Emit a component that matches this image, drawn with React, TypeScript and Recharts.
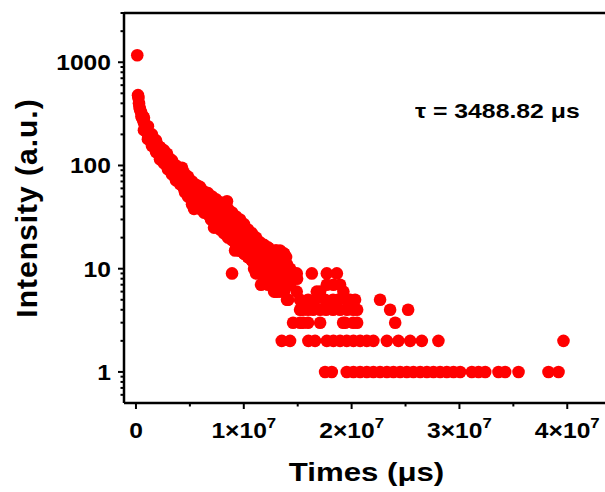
import React, { useLayoutEffect } from "react";
import { ScatterChart, Scatter, XAxis, YAxis, Label } from "recharts";

const FONT = '"Liberation Sans", Arial, Helvetica, sans-serif';

// early part of the decay (time in µs, intensity in counts)
const decayTimes = [
  0.12e6, 0.19e6, 0.23e6, 0.28e6, 0.32e6, 0.37e6, 0.46e6, 0.51e6, 0.56e6, 0.65e6,
  0.7e6, 0.74e6, 0.84e6, 0.93e6, 1.02e6, 1.11e6, 1.21e6, 1.3e6, 1.39e6, 1.48e6,
  1.58e6, 1.67e6, 1.76e6, 1.86e6, 1.95e6, 2.04e6, 2.13e6, 2.23e6, 2.32e6, 2.41e6,
  2.51e6, 2.6e6, 2.69e6, 2.78e6, 2.88e6, 2.97e6, 3.06e6, 3.16e6, 3.25e6, 3.34e6,
  3.43e6, 3.53e6, 3.62e6, 3.71e6, 3.9e6, 3.99e6, 4.08e6, 4.18e6, 4.27e6, 4.36e6,
  4.45e6, 4.55e6, 4.64e6, 4.73e6, 4.83e6, 4.92e6, 5.01e6, 5.1e6, 5.2e6, 5.29e6,
  5.38e6, 5.48e6, 5.57e6, 5.66e6, 5.75e6, 5.85e6, 5.94e6, 6.03e6, 6.12e6, 6.22e6,
  6.31e6, 6.4e6, 6.5e6, 6.59e6, 6.68e6, 6.77e6, 6.87e6, 6.96e6, 7.05e6, 7.15e6,
  7.24e6, 7.33e6, 7.42e6, 7.52e6, 7.61e6, 7.7e6, 7.8e6, 7.89e6, 7.98e6, 8.07e6,
  8.17e6, 8.26e6, 8.35e6, 8.44e6, 8.54e6, 8.63e6, 8.72e6, 8.82e6, 8.91e6, 9.0e6,
  9.09e6, 9.19e6, 9.28e6, 9.37e6, 9.47e6, 9.56e6, 9.65e6, 9.74e6, 9.84e6, 9.93e6,
  10.02e6, 10.12e6, 10.21e6, 10.3e6, 10.39e6, 10.49e6, 10.58e6, 10.67e6, 10.76e6, 10.86e6,
  10.95e6, 11.04e6, 11.14e6, 11.14e6, 11.23e6, 11.32e6, 11.41e6, 11.51e6, 11.6e6, 11.69e6,
  11.79e6, 11.88e6, 11.97e6, 12.06e6, 12.16e6, 12.25e6, 12.34e6, 12.44e6, 12.53e6, 12.62e6,
  12.71e6, 12.81e6, 12.9e6, 12.99e6, 13.08e6, 13.18e6, 13.27e6, 13.36e6, 13.46e6, 13.64e6,
  13.73e6, 13.83e6, 13.92e6, 14.01e6, 14.11e6, 14.2e6, 14.29e6,
];
const decayCounts = [
  1170, 480, 450, 400, 370, 350, 330, 300, 290, 300,
  270, 260, 240, 230, 220, 200, 195, 185, 175, 180,
  165, 160, 170, 150, 160, 145, 140, 150, 135, 130,
  140, 120, 125, 105, 130, 110, 95, 115, 100, 90,
  105, 85, 95, 80, 90, 75, 70, 85, 95, 65,
  72, 55, 80, 60, 68, 52, 72, 58, 45, 62,
  38, 55, 48, 60, 56, 42, 50, 45, 52, 40,
  47, 35, 42, 38, 45, 33, 40, 30, 36, 32,
  25, 38, 31, 26, 34, 29, 43, 25, 30, 27,
  34, 23, 28, 45, 25, 30, 22, 27, 9, 20,
  24, 15, 21, 18, 23, 15, 19, 22, 17, 25,
  14, 20, 16, 18, 13, 21, 15, 19, 12, 17,
  10, 14, 16, 9, 12, 18, 11, 13, 7, 15,
  10, 12, 14, 9, 11, 16, 8, 12, 10, 7,
  13, 6, 9, 15, 11, 8, 12, 15, 10, 9,
  14, 7, 13, 11, 5, 8, 10,
];

// upper and lower edge of the noisy band
const bandTimes = [
  0.74e6, 1.11e6, 1.48e6, 1.86e6, 2.23e6, 2.6e6, 2.97e6, 3.34e6, 3.71e6, 4.08e6,
  4.45e6, 4.83e6, 5.2e6, 5.57e6, 5.94e6, 6.31e6, 6.68e6, 7.05e6, 7.42e6, 7.8e6,
  8.17e6, 8.54e6, 8.91e6, 9.28e6, 9.65e6, 10.02e6, 10.39e6, 10.76e6, 11.14e6, 11.51e6,
  11.88e6, 12.25e6, 12.62e6, 12.99e6, 13.36e6, 13.73e6,
];
const bandHigh = [
  290, 240, 200, 175, 150, 140, 120, 112, 100, 92,
  85, 78, 70, 65, 62, 56, 54, 50, 47, 44,
  40, 38, 35, 32, 30, 27, 24, 22, 20, 18,
  17, 16, 15, 15, 14, 14,
];
const bandLow = [
  220, 180, 155, 135, 115, 105, 92, 82, 72, 66,
  60, 50, 42, 40, 38, 35, 34, 30, 26, 24,
  22, 20, 19, 17, 15, 14, 13, 12, 10, 9,
  8, 7, 7, 6, 6, 6,
];

// long tail, where the counts fall onto whole numbers
const tailTimes = [
  14.91e6, 16.31e6, 17.7e6, 18.63e6,
  14.57e6, 14.94e6,
  12.9e6, 14.29e6, 17.7e6, 18.31e6, 18.93e6,
  13.08e6, 14.91e6, 16.77e6, 17.08e6, 19.24e6,
  14.01e6, 15.22e6, 15.96e6, 16.61e6, 17.54e6, 18.28e6, 18.75e6, 19.58e6, 19.86e6, 20.32e6, 22.64e6,
  15.22e6, 15.5e6, 15.96e6, 16.43e6, 17.08e6, 17.63e6, 18.28e6, 18.93e6, 19.58e6, 20.14e6, 20.51e6, 23.57e6, 25.24e6,
  14.57e6, 15.22e6, 15.5e6, 15.96e6, 17.08e6, 19.21e6, 19.4e6, 20.14e6, 20.51e6, 24.04e6,
  13.52e6, 14.29e6, 15.99e6, 16.61e6, 17.7e6, 18.31e6, 18.93e6, 19.55e6, 20.17e6, 20.79e6,
  21.41e6, 22.02e6, 23.27e6, 24.34e6, 25.43e6, 26.51e6, 28.05e6, 39.65e6,
  17.54e6, 18.16e6, 19.55e6, 20.17e6, 20.79e6, 21.41e6, 22.02e6, 22.64e6, 23.27e6, 23.88e6,
  24.5e6, 25.12e6, 25.73e6, 26.36e6, 26.98e6, 27.59e6, 28.21e6, 28.83e6, 29.45e6, 30.07e6,
  31.15e6, 31.77e6, 32.39e6, 33.62e6, 34.24e6, 35.48e6, 38.26e6, 39.19e6,
];
const tailCounts = [
  9, 9, 9, 9,
  8, 8,
  7, 7, 7, 7, 7,
  6, 6, 6, 6, 6,
  5, 5, 5, 5, 5, 5, 5, 5, 5, 5, 5,
  4, 4, 4, 4, 4, 4, 4, 4, 4, 4, 4, 4, 4,
  3, 3, 3, 3, 3, 3, 3, 3, 3, 3,
  2, 2, 2, 2, 2, 2, 2, 2, 2, 2,
  2, 2, 2, 2, 2, 2, 2, 2,
  1, 1, 1, 1, 1, 1, 1, 1, 1, 1,
  1, 1, 1, 1, 1, 1, 1, 1, 1, 1,
  1, 1, 1, 1, 1, 1, 1, 1,
];

const xMajorTicks = [0, 1e7, 2e7, 3e7, 4e7];
const xMinorTicks = [0.5e7, 1.5e7, 2.5e7, 3.5e7];
const yMajorTicks = [1, 10, 100, 1000];
const yMinorTicks = [
  0.6, 0.7, 0.8, 0.9, 2, 3, 4, 5, 6, 7, 8, 9, 20, 30, 40, 50, 60, 70, 80, 90,
  200, 300, 400, 500, 600, 700, 800, 900, 2000, 3000,
];
const tauLabel = "τ = 3488.82 μs";

const points = [
  ...decayTimes.map((t, i) => ({ t, c: decayCounts[i] })),
  ...bandTimes.map((t, i) => ({ t, c: bandHigh[i] })),
  ...bandTimes.map((t, i) => ({ t, c: bandLow[i] })),
  ...tailTimes.map((t, i) => ({ t, c: tailCounts[i] })),
];

const xTicks = [...xMajorTicks, ...xMinorTicks].sort((a, b) => a - b);
const yTicks = [...yMajorTicks, ...yMinorTicks].sort((a, b) => a - b);

const TICK = 5;
const X_MARGIN = 14;
const Y_MARGIN = 8;

function XTick(props: any) {
  const { x, y, payload } = props;
  const v = payload.value;
  const major = xMajorTicks.includes(v);
  const axisY = y - TICK - X_MARGIN;
  return (
    <g>
      <line x1={x} x2={x} y1={axisY} y2={axisY + (major ? 6 : 3.5)} stroke="#000" strokeWidth={2} />
      {major && (
        <text
          transform={`translate(${x},${y}) scale(1.12,1)`}
          textAnchor="middle"
          dy="0.71em"
          fontSize={22}
          fontWeight="bold"
          fontFamily={FONT}
          fill="#000"
        >
          {v === 0 ? "0" : `${v / 1e7}×10`}
          {v !== 0 && (
            <tspan fontSize={15} dy={-10}>
              7
            </tspan>
          )}
        </text>
      )}
    </g>
  );
}

function YTick(props: any) {
  const { x, y, payload } = props;
  const v = payload.value;
  const major = yMajorTicks.includes(v);
  const axisX = x + TICK + Y_MARGIN;
  return (
    <g>
      <line x1={axisX - (major ? 6 : 3.5)} x2={axisX} y1={y} y2={y} stroke="#000" strokeWidth={2} />
      {major && (
        <text
          transform={`translate(${x},${y}) scale(1.12,1)`}
          textAnchor="end"
          dy="0.355em"
          fontSize={22}
          fontWeight="bold"
          fontFamily={FONT}
          fill="#000"
        >
          {v}
        </text>
      )}
    </g>
  );
}

function Dot(props: any) {
  return <circle cx={props.cx} cy={props.cy} r={6.3} fill="#ff0000" />;
}

export default function App() {
  useLayoutEffect(() => {
    document.body.style.margin = "0";
    document.body.style.overflow = "hidden";
    document.documentElement.style.overflow = "hidden";
  }, []);

  return (
    <div style={{ width: 605, height: 492, position: "relative", overflow: "hidden", background: "#fff" }}>
      <ScatterChart width={605} height={492} margin={{ top: 12, right: 0, bottom: 0, left: 0 }}>
        <XAxis
          xAxisId="main"
          dataKey="t"
          type="number"
          domain={[-1.11e6, 4.35e7]}
          allowDataOverflow
          ticks={xTicks}
          interval={0}
          height={89}
          tickSize={TICK}
          tickMargin={X_MARGIN}
          tickLine={false}
          tick={<XTick />}
          axisLine={{ stroke: "#000", strokeWidth: 2.5 }}
        >
          <Label
            content={({ viewBox }: any) => (
              <text
                transform={`translate(${viewBox.x + viewBox.width / 2 + 2},${viewBox.y + 78}) scale(1.2,1)`}
                textAnchor="middle"
                fontSize={26}
                fontWeight="bold"
                fontFamily={FONT}
                fill="#000"
              >
                Times (μs)
              </text>
            )}
          />
        </XAxis>
        <XAxis
          xAxisId="top"
          orientation="top"
          type="number"
          domain={[-1.11e6, 4.35e7]}
          height={1}
          tick={false}
          tickLine={false}
          axisLine={{ stroke: "#000", strokeWidth: 2.5 }}
        />
        <YAxis
          yAxisId="main"
          dataKey="c"
          type="number"
          scale="log"
          domain={[0.5, 3000]}
          allowDataOverflow
          ticks={yTicks}
          interval={0}
          width={124}
          tickSize={TICK}
          tickMargin={Y_MARGIN}
          tickLine={false}
          tick={<YTick />}
          axisLine={{ stroke: "#000", strokeWidth: 2.5 }}
        >
          <Label
            content={({ viewBox }: any) => {
              const cx = 37;
              const cy = viewBox.y + viewBox.height / 2;
              return (
                <text
                  transform={`translate(${cx},${cy}) rotate(-90)`}
                  textAnchor="middle"
                  fontSize={30}
                  fontWeight="bold"
                  letterSpacing={1}
                  fontFamily={FONT}
                  fill="#000"
                >
                  Intensity (a.u.)
                </text>
              );
            }}
          />
        </YAxis>
        <Scatter
          data={points}
          xAxisId="main"
          yAxisId="main"
          shape={<Dot />}
          isAnimationActive={false}
        />
      </ScatterChart>
      <div
        style={{
          position: "absolute",
          left: 415,
          top: 100,
          fontFamily: FONT,
          fontWeight: "bold",
          fontSize: 21,
          lineHeight: "21px",
          whiteSpace: "nowrap",
          transform: "scale(1.18,1)",
          transformOrigin: "left center",
          color: "#000",
        }}
      >
        {tauLabel}
      </div>
    </div>
  );
}
